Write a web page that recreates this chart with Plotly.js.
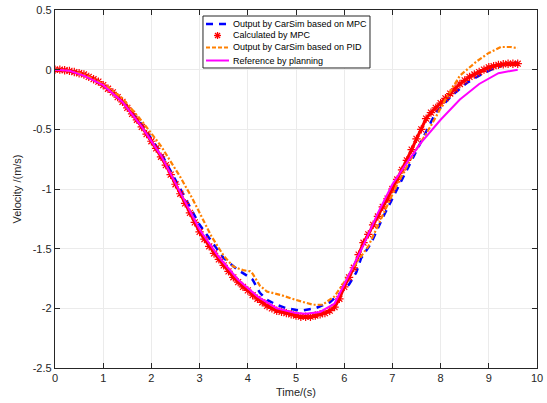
<!DOCTYPE html>
<html>
<head>
<meta charset="utf-8">
<script src="https://cdn.plot.ly/plotly-3.0.1.min.js"></script>
<style>html,body{margin:0;padding:0;background:#fff;}#chart{width:547px;height:403px;}</style>
</head>
<body>
<div id="chart"></div>
<script>
// Output by CarSim based on MPC (blue dashed)
const tBlue = [0,0.3,0.6,1.0,1.4,1.8,2.2,2.6,3.0,3.5,3.8,4.0,4.1,4.25,4.4,4.6,4.8,5.1,5.4,5.7,5.9,6.1,6.25,6.35,6.55,6.8,7.1,7.5,7.7,7.9,8.25,8.55,8.8,9.05,9.3,9.55,9.6];
const vBlue = [0,-0.01,-0.04,-0.13,-0.26,-0.46,-0.70,-1.00,-1.30,-1.58,-1.68,-1.73,-1.76,-1.87,-1.93,-1.97,-2.00,-2.02,-2.00,-1.95,-1.88,-1.80,-1.70,-1.58,-1.46,-1.24,-1.00,-0.68,-0.53,-0.36,-0.21,-0.11,-0.05,0.0,0.04,0.06,0.06];

// Calculated by MPC (red asterisks), sampled every 0.1 s
const tRed = [0,0.1,0.2,0.3,0.4,0.5,0.6,0.7,0.8,0.9,1.0,1.1,1.2,1.3,1.4,1.5,1.6,1.7,1.8,1.9,2.0,2.1,2.2,2.3,2.4,2.5,2.6,2.7,2.8,2.9,3.0,3.1,3.2,3.3,3.4,3.5,3.6,3.7,3.8,3.9,4.0,4.1,4.2,4.3,4.4,4.5,4.6,4.7,4.8,4.9,5.0,5.1,5.2,5.3,5.4,5.5,5.6,5.7,5.8,5.9,6.0,6.1,6.2,6.3,6.4,6.5,6.6,6.7,6.8,6.9,7.0,7.1,7.2,7.3,7.4,7.5,7.6,7.7,7.8,7.9,8.0,8.1,8.2,8.3,8.4,8.5,8.6,8.7,8.8,8.9,9.0,9.1,9.2,9.3,9.4,9.5,9.6];
const vRed = [0,0,-0.005,-0.01,-0.02,-0.03,-0.04,-0.06,-0.08,-0.10,-0.13,-0.16,-0.19,-0.23,-0.27,-0.32,-0.37,-0.42,-0.48,-0.54,-0.60,-0.66,-0.73,-0.80,-0.88,-0.96,-1.04,-1.12,-1.20,-1.28,-1.36,-1.42,-1.48,-1.54,-1.59,-1.64,-1.69,-1.74,-1.78,-1.82,-1.85,-1.89,-1.92,-1.95,-1.98,-2.00,-2.02,-2.03,-2.04,-2.05,-2.06,-2.07,-2.07,-2.07,-2.06,-2.05,-2.04,-2.02,-1.99,-1.92,-1.82,-1.74,-1.66,-1.55,-1.45,-1.38,-1.30,-1.23,-1.15,-1.08,-1.00,-0.92,-0.84,-0.76,-0.67,-0.58,-0.50,-0.41,-0.36,-0.32,-0.28,-0.24,-0.20,-0.16,-0.12,-0.09,-0.06,-0.04,-0.02,0.0,0.02,0.03,0.04,0.045,0.05,0.05,0.05];

// Output by CarSim based on PID (orange dash-dot)
const tOrange = [0,0.3,0.6,1.0,1.4,1.8,2.2,2.6,2.85,3.0,3.25,3.5,3.7,3.9,4.05,4.1,4.25,4.4,4.7,5.0,5.35,5.55,5.8,6.0,6.2,6.5,6.8,7.1,7.45,7.8,8.1,8.4,8.75,9.0,9.25,9.45,9.6];
const vOrange = [0,-0.01,-0.04,-0.12,-0.24,-0.43,-0.64,-0.90,-1.08,-1.20,-1.40,-1.56,-1.65,-1.68,-1.69,-1.71,-1.81,-1.86,-1.89,-1.93,-1.97,-1.97,-1.90,-1.78,-1.65,-1.48,-1.22,-0.96,-0.70,-0.47,-0.25,-0.05,0.07,0.14,0.19,0.19,0.18];

// Reference by planning (magenta solid)
const tRef = [0,0.3,0.6,1.0,1.4,1.8,2.2,2.6,3.0,3.4,3.8,4.2,4.6,5.0,5.2,5.5,5.8,6.0,6.2,6.4,6.7,7.0,7.3,7.6,8.0,8.4,8.8,9.2,9.6];
const vRef = [0,-0.01,-0.05,-0.13,-0.27,-0.48,-0.72,-1.03,-1.34,-1.57,-1.76,-1.90,-2.00,-2.04,-2.045,-2.03,-1.96,-1.80,-1.63,-1.47,-1.20,-0.96,-0.78,-0.61,-0.42,-0.25,-0.12,-0.03,0.0];

const legendNames = ['Output by CarSim based on MPC','Calculated by MPC','Output by CarSim based on PID','Reference by planning'];
const xTicks = [0,1,2,3,4,5,6,7,8,9,10];
const yTicks = [0.5,0,-0.5,-1,-1.5,-2,-2.5];

const C_BLUE = '#0000ff', C_RED = '#ff0000', C_ORANGE = '#ff8000', C_MAG = '#ff00ff';
const DASH_BLUE = '7px,6px', DASH_ORANGE = '5px,2px,2px,2px';

const traces = [
  {x:tBlue, y:vBlue, name:legendNames[0], mode:'lines', line:{color:C_BLUE, width:2.5, dash:DASH_BLUE}},
  {x:tRed, y:vRed, name:legendNames[1], mode:'lines', hoverinfo:'skip', line:{color:C_RED, width:3}},
  {x:tRed, y:vRed, name:legendNames[1], mode:'markers', marker:{symbol:'asterisk-open', size:7, color:C_RED, line:{color:C_RED, width:1.2}}},
  {x:tOrange, y:vOrange, name:legendNames[2], mode:'lines', line:{color:C_ORANGE, width:2.2, dash:DASH_ORANGE}},
  {x:tRef, y:vRef, name:legendNames[3], mode:'lines', line:{color:C_MAG, width:2}}
];

// Legend box (drawn in paper coordinates)
const LX0 = 0.307, LX1 = 0.6535, LY0 = 0.838, LY1 = 0.9832;
const rowY = [0.961, 0.9288, 0.8953, 0.8589];
const sX0 = 0.3133, sX1 = 0.361, sXmid = 0.3372, txtX = 0.3651;
const ax = 3.5 / 482, ay = 3.5 / 358, dx = 2.5 / 482, dy = 2.5 / 358;

const lineShape = (x0, y0, x1, y1, line) => ({type:'line', xref:'paper', yref:'paper', x0, y0, x1, y1, line, layer:'above'});
const starLine = {color:C_RED, width:1.3};

const shapes = [
  {type:'rect', xref:'paper', yref:'paper', x0:LX0, x1:LX1, y0:LY0, y1:LY1, line:{color:'#262626', width:1}, fillcolor:'#ffffff', layer:'above'},
  lineShape(sX0, rowY[0], sX1, rowY[0], {color:C_BLUE, width:2.5, dash:DASH_BLUE}),
  lineShape(sXmid - ax, rowY[1], sXmid + ax, rowY[1], starLine),
  lineShape(sXmid, rowY[1] - ay, sXmid, rowY[1] + ay, starLine),
  lineShape(sXmid - dx, rowY[1] - dy, sXmid + dx, rowY[1] + dy, starLine),
  lineShape(sXmid - dx, rowY[1] + dy, sXmid + dx, rowY[1] - dy, starLine),
  lineShape(sX0, rowY[2], sX1, rowY[2], {color:C_ORANGE, width:2.2, dash:'4px,2px'}),
  lineShape(sX0, rowY[3], sX1, rowY[3], {color:C_MAG, width:2})
];

const annotations = legendNames.map((n, i) => ({
  xref:'paper', yref:'paper', x:txtX, y:rowY[i], xanchor:'left', yanchor:'middle', showarrow:false,
  text:n, font:{family:'Liberation Sans, Arial, sans-serif', size:9, color:'#000000'}
}));

const axisCommon = {
  showline:true, mirror:'ticks', linecolor:'#262626', linewidth:1.2,
  ticks:'inside', ticklen:5, tickcolor:'#262626', tickwidth:1,
  showgrid:true, gridcolor:'#ebebeb', gridwidth:1, zeroline:false,
  tickfont:{family:'Liberation Sans, Arial, sans-serif', size:11, color:'#262626'}
};

const layout = {
  width:547, height:403,
  margin:{l:55, r:10, t:10, b:35},
  paper_bgcolor:'#ffffff', plot_bgcolor:'#ffffff',
  font:{family:'Liberation Sans, Arial, sans-serif', color:'#262626'},
  xaxis:Object.assign({}, axisCommon, {range:[0,10], tickvals:xTicks, ticktext:xTicks.map(String),
    title:{text:'Time/(s)', font:{size:11, color:'#262626'}, standoff:4}}),
  yaxis:Object.assign({}, axisCommon, {range:[-2.5,0.5], tickvals:yTicks, ticktext:yTicks.map(String),
    title:{text:'Velocity /(m/s)', font:{size:11, color:'#262626'}, standoff:8}}),
  showlegend:false,
  shapes:shapes,
  annotations:annotations
};

Plotly.newPlot('chart', traces, layout, {displayModeBar:false, staticPlot:true});
</script>
</body>
</html>
